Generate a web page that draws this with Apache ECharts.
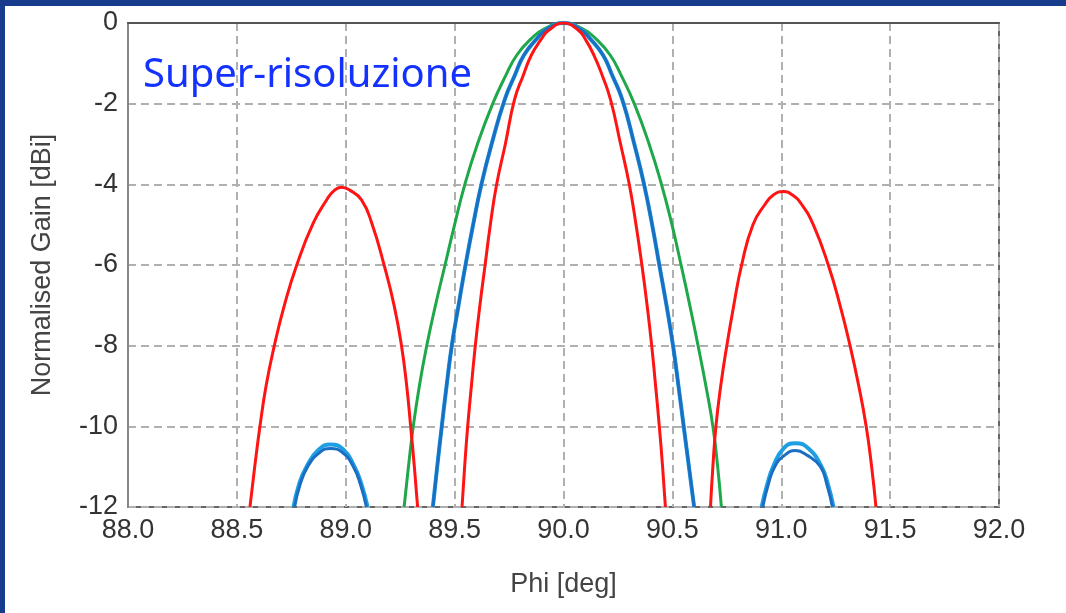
<!DOCTYPE html>
<html><head><meta charset="utf-8">
<style>html,body{margin:0;padding:0;background:#fff;}#c{width:1066px;height:613px;}</style>
<script src="https://cdn.jsdelivr.net/npm/echarts@6/dist/echarts.min.js"></script>
</head><body><div id="c"></div>
<script>
// tick labels
const xTicks = [88.0, 88.5, 89.0, 89.5, 90.0, 90.5, 91.0, 91.5, 92.0];
const yTicks = [0, -2, -4, -6, -8, -10, -12];
// red: super-resolution pattern (main lobe + two side lobes)
const redLeftLobe = [[88.56,-12],[88.582,-11],[88.606,-10],[88.634,-9],[88.672,-8],[88.718,-7],[88.775,-6],[88.85,-4.97],[88.912,-4.39],[88.945,-4.16],[88.98,-4.07],[89.02,-4.15],[89.073,-4.39],[89.12,-4.97],[89.176,-6],[89.222,-7],[89.256,-8],[89.28,-9],[89.298,-10],[89.315,-11],[89.33,-12]];
const redMain = [[89.534,-12],[89.546,-11],[89.56,-10],[89.577,-9],[89.595,-8],[89.616,-7],[89.64,-6],[89.664,-5],[89.693,-4],[89.733,-3],[89.775,-1.9],[89.815,-1.3],[89.852,-0.8],[89.898,-0.4],[89.932,-0.18],[90.0,0],[90.068,-0.18],[90.10,-0.4],[90.14,-0.8],[90.178,-1.3],[90.216,-1.9],[90.262,-3],[90.302,-4],[90.333,-5],[90.36,-6],[90.384,-7],[90.405,-8],[90.423,-9],[90.44,-10],[90.455,-11],[90.468,-12]];
const redRightLobe = [[90.675,-12],[90.686,-11],[90.70,-10],[90.722,-9],[90.75,-8],[90.782,-7],[90.818,-6],[90.87,-5],[90.925,-4.5],[90.965,-4.26],[91.01,-4.18],[91.05,-4.26],[91.094,-4.5],[91.147,-5],[91.216,-6],[91.27,-7],[91.316,-8],[91.356,-9],[91.39,-10],[91.415,-11],[91.435,-12]];
// blue (dark)
const blueLeftLobe = [[88.765,-12],[88.79,-11.45],[88.825,-11],[88.88,-10.65],[88.93,-10.55],[88.985,-10.65],[89.035,-11],[89.068,-11.45],[89.095,-12]];
const blueMain = [[89.40,-12],[89.42,-11],[89.441,-10],[89.463,-9],[89.487,-8],[89.518,-7],[89.55,-6],[89.585,-5],[89.623,-4],[89.67,-3],[89.73,-1.9],[89.776,-1.3],[89.818,-0.8],[89.876,-0.4],[89.924,-0.15],[90.0,0],[90.076,-0.15],[90.124,-0.4],[90.182,-0.8],[90.224,-1.3],[90.27,-1.9],[90.325,-3],[90.37,-4],[90.407,-5],[90.44,-6],[90.473,-7],[90.503,-8],[90.528,-9],[90.552,-10],[90.576,-11],[90.60,-12]];
const blueRightLobe = [[90.915,-12],[90.94,-11.45],[90.97,-11],[91.015,-10.72],[91.065,-10.6],[91.12,-10.72],[91.18,-11],[91.21,-11.45],[91.235,-12]];
// light blue
const lightLeftLobe = [[88.76,-12],[88.785,-11.45],[88.82,-11],[88.875,-10.58],[88.93,-10.45],[88.99,-10.58],[89.04,-11],[89.073,-11.45],[89.10,-12]];
const lightMain = [[89.40,-12],[89.42,-11],[89.441,-10],[89.463,-9],[89.487,-8],[89.518,-7],[89.55,-6],[89.585,-5],[89.623,-4],[89.67,-3],[89.73,-1.9],[89.776,-1.3],[89.818,-0.8],[89.876,-0.4],[89.924,-0.15],[90.0,0],[90.076,-0.15],[90.124,-0.4],[90.182,-0.8],[90.224,-1.3],[90.27,-1.9],[90.325,-3],[90.37,-4],[90.407,-5],[90.44,-6],[90.473,-7],[90.503,-8],[90.528,-9],[90.552,-10],[90.576,-11],[90.60,-12]];
const lightRightLobe = [[90.91,-12],[90.935,-11.45],[90.963,-11],[91.01,-10.55],[91.065,-10.42],[91.125,-10.55],[91.185,-11],[91.215,-11.45],[91.24,-12]];
// green
const greenMain = [[89.268,-12],[89.288,-11],[89.31,-10],[89.338,-9],[89.372,-8],[89.412,-7],[89.456,-6],[89.50,-5],[89.547,-4],[89.605,-3],[89.675,-2],[89.735,-1.3],[89.785,-0.8],[89.85,-0.4],[89.91,-0.15],[90.0,0],[90.09,-0.15],[90.15,-0.4],[90.215,-0.8],[90.265,-1.3],[90.325,-2],[90.393,-3],[90.45,-4],[90.498,-5],[90.54,-6],[90.58,-7],[90.618,-8],[90.654,-9],[90.686,-10],[90.708,-11],[90.725,-12]];

const joinLobes = (...lobes) => {
  const out = [];
  lobes.forEach((l, i) => { if (i) out.push([null, null]); l.forEach(p => out.push(p)); });
  return out;
};

const chart = echarts.init(document.getElementById('c'), null, {renderer: 'canvas'});
const mk = (name, data, color, w, z) => ({
  name, type: 'line', data, smooth: 0.5, showSymbol: false, symbol: 'none',
  connectNulls: false, clip: true, z,
  lineStyle: {color, width: w}
});
const tickFont = {fontFamily: 'Liberation Sans', fontSize: 27, color: '#333'};
chart.setOption({
  animation: false,
  backgroundColor: '#fff',
  grid: {left: 128, top: 23, right: 67, bottom: 106, show: true, borderColor: '#666', borderWidth: 2, containLabel: false},
  xAxis: {
    type: 'value', min: 88, max: 92, interval: 0.5,
    name: 'Phi [deg]', nameLocation: 'middle', nameGap: 64,
    nameTextStyle: {fontFamily: 'Liberation Sans', fontSize: 27, color: '#444'},
    axisLine: {show: true, lineStyle: {color: '#555', width: 2}},
    axisTick: {show: false},
    axisLabel: Object.assign({margin: 10, formatter: v => v.toFixed(1)}, tickFont),
    splitLine: {show: true, lineStyle: {color: '#b0b0b0', width: 2, type: [8, 5]}}
  },
  yAxis: {
    type: 'value', min: -12, max: 0, interval: 2,
    name: 'Normalised Gain [dBi]', nameLocation: 'middle', nameGap: 72,
    nameTextStyle: {fontFamily: 'Liberation Sans', fontSize: 27, color: '#444'},
    axisLine: {show: true, lineStyle: {color: '#888', width: 2}},
    axisTick: {show: false},
    axisLabel: Object.assign({margin: 10}, tickFont),
    splitLine: {show: true, lineStyle: {color: '#b0b0b0', width: 2, type: [8, 5]}}
  },
  graphic: [
    {type: 'rect', shape: {x: 0, y: 0, width: 1066, height: 6}, style: {fill: '#173c8d'}, z: 100},
    {type: 'rect', shape: {x: 0, y: 0, width: 5, height: 613}, style: {fill: '#173c8d'}, z: 100},
    {type: 'text', left: 143, top: 56, z: 100,
      style: {text: 'Super-risoluzione', fill: '#1432ff', font: '40px "Noto Sans"'}}
  ],
  series: [
    mk('green', greenMain, '#1fa84a', 3, 3),
    mk('lightblue', joinLobes(lightLeftLobe, lightMain, lightRightLobe), '#1e9fe3', 4, 4),
    mk('blue', joinLobes(blueLeftLobe, blueMain, blueRightLobe), '#1b6fc2', 3, 5),
    mk('red', joinLobes(redLeftLobe, redMain, redRightLobe), '#ff1414', 3, 6)
  ]
});
</script></body></html>
